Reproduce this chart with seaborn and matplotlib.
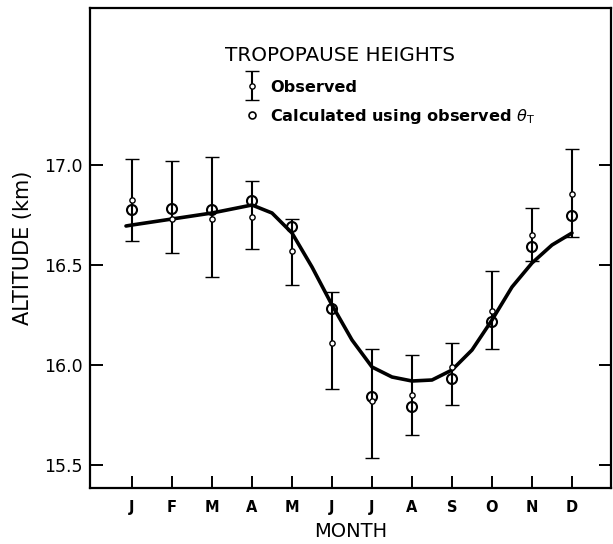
import numpy as np
import pandas as pd
import matplotlib
matplotlib.use("Agg")
import matplotlib.pyplot as plt
import seaborn as sns
from matplotlib.lines import Line2D
from matplotlib.legend_handler import HandlerErrorbar

# ---- data ----
months = ["J", "F", "M", "A", "M", "J", "J", "A", "S", "O", "N", "D"]
obs_mean = [16.825, 16.73, 16.73, 16.74, 16.57, 16.11, 15.82, 15.85, 15.99, 16.27, 16.65, 16.855]
obs_high = [17.03, 17.02, 17.04, 16.92, 16.73, 16.365, 16.08, 16.05, 16.11, 16.47, 16.785, 17.08]
obs_low = [16.62, 16.56, 16.44, 16.58, 16.40, 15.88, 15.535, 15.65, 15.80, 16.08, 16.52, 16.64]
calc = [16.775, 16.78, 16.775, 16.82, 16.69, 16.28, 15.84, 15.79, 15.93, 16.215, 16.59, 16.745]
curve_month = [-0.15, 0, 0.5, 1, 1.5, 2, 2.5, 3, 3.5, 4, 4.5, 5, 5.5, 6, 6.5, 7, 7.5, 8, 8.5, 9, 9.5, 10, 10.5, 11]
curve_alt = [16.695, 16.70, 16.715, 16.73, 16.745, 16.76, 16.78, 16.80, 16.76, 16.66, 16.49, 16.30, 16.125,
             15.99, 15.94, 15.92, 15.925, 15.975, 16.075, 16.225, 16.39, 16.51, 16.60, 16.66]
ytick_vals = [15.5, 16.0, 16.5, 17.0]
ytick_labels = ["15.5", "16.0", "16.5", "17.0"]

sns.set_theme(style="ticks")
plt.rcParams["font.family"] = ["DejaVu Sans"]
plt.rcParams["mathtext.fontset"] = "dejavusans"
plt.rcParams["text.color"] = "black"
plt.rcParams["axes.labelcolor"] = "black"

fig = plt.figure(figsize=(6.13, 5.44), dpi=100)
ax = fig.add_axes([90 / 613, 56 / 544, 521 / 613, 480 / 544])

x = np.arange(len(months))
mean = np.array(obs_mean)
yerr = [mean - np.array(obs_low), np.array(obs_high) - mean]

curve_df = pd.DataFrame({"month": curve_month, "alt": curve_alt})
sns.lineplot(data=curve_df, x="month", y="alt", color="black", lw=2.6, ax=ax, zorder=3,
             sort=False)
ax.lines[-1].set_solid_joinstyle("round")

calc_df = pd.DataFrame({"month": x, "alt": calc})
sns.scatterplot(data=calc_df, x="month", y="alt", s=52, marker="o", facecolor="none",
                edgecolor="black", linewidth=1.5, ax=ax, zorder=4)

eb = ax.errorbar(x, mean, yerr=yerr, fmt="o", ms=3.8, mfc="white", mec="black", mew=1.0,
                 ecolor="black", elinewidth=1.5, capsize=4.7, capthick=1.5, zorder=5)

ax.set_xlim(-1.05, 11.975)
ax.set_ylim(15.385, 17.785)
ax.set_xticks(x, months, fontsize=10.5, fontweight="bold")
ax.set_yticks(ytick_vals, ytick_labels, fontsize=12.5)
ax.tick_params(axis="both", direction="in", length=9, width=1.4, colors="black")
ax.tick_params(axis="y", right=True, pad=5)
ax.tick_params(axis="x", top=False, pad=8.5)
for sp in ax.spines.values():
    sp.set_visible(True)
    sp.set_linewidth(1.6)
    sp.set_color("black")

ax.set_xlabel("MONTH", fontsize=14, labelpad=5, color="black")
ax.set_ylabel("ALTITUDE (km)", fontsize=15, labelpad=8, color="black")

ax.text(0.259, 0.902, "TROPOPAUSE HEIGHTS", transform=ax.transAxes, fontsize=14.4,
        ha="left", va="center", color="black")

calc_handle = Line2D([], [], marker="o", ls="none", mfc="white", mec="black", ms=5, mew=1.2)
leg = ax.legend([eb, calc_handle], ["Observed", "Calculated using observed $\\theta_{\\mathrm{T}}$"],
                handler_map={eb: HandlerErrorbar(yerr_size=0.9)},
                loc="upper left", bbox_to_anchor=(0.2956, 0.851), frameon=False,
                prop={"weight": "bold", "size": 11.6}, handlelength=1.0, handletextpad=0.6,
                labelspacing=0.75, borderpad=0, borderaxespad=0, labelcolor="black")

fig.savefig("out.png", dpi=100)
